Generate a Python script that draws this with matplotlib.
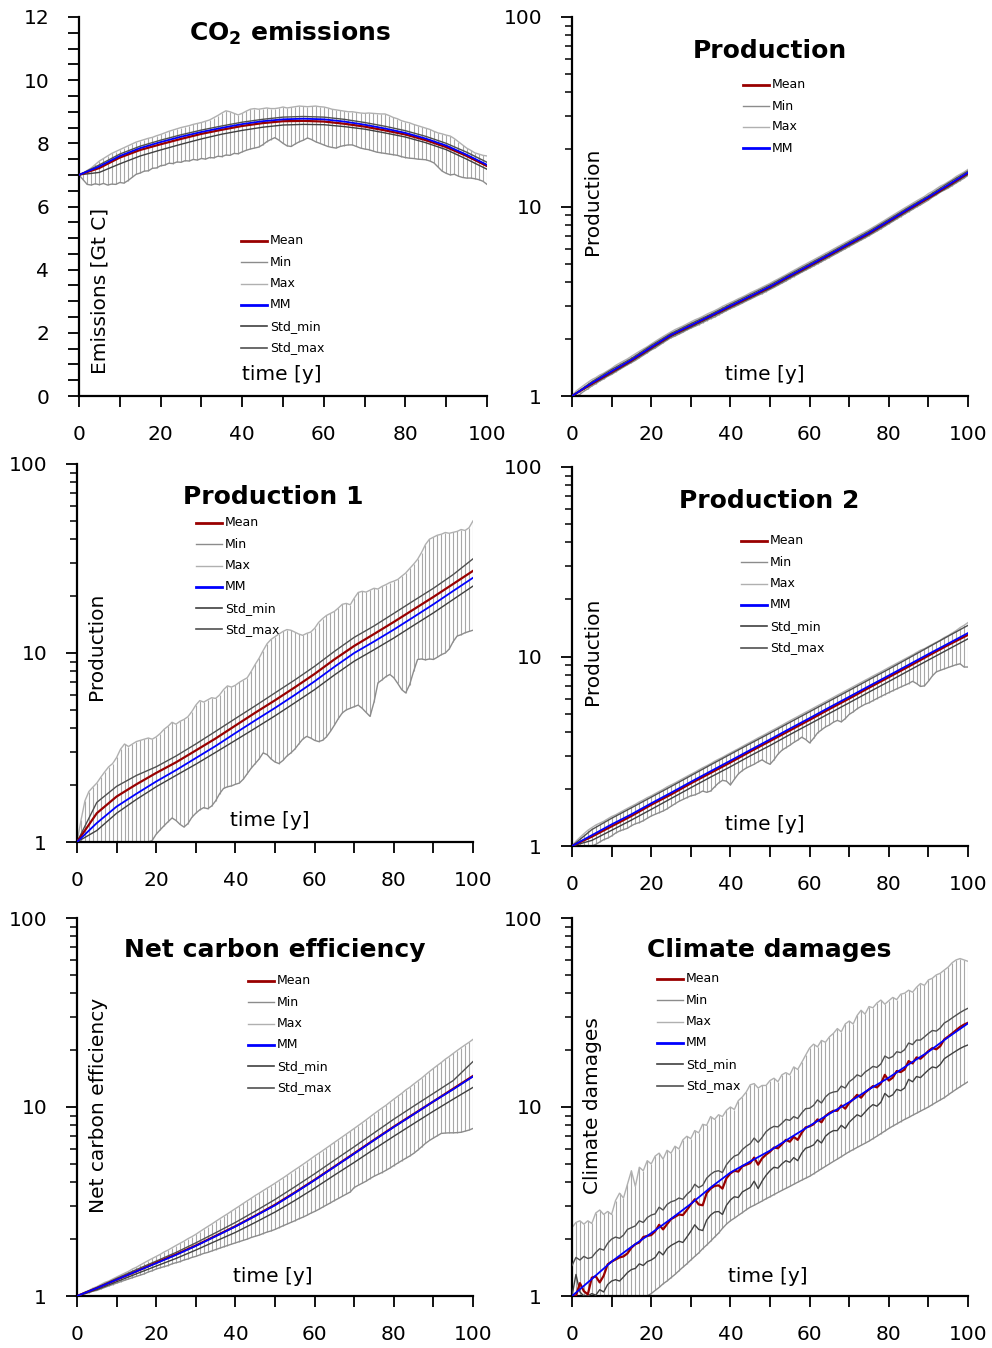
import numpy as np
import matplotlib
matplotlib.use("Agg")
import matplotlib.pyplot as plt
from matplotlib.lines import Line2D
from matplotlib.ticker import (MultipleLocator, FixedLocator, FixedFormatter,
                               LogLocator, NullFormatter)

W, H = 992, 1348

years = np.arange(0, 101)        # yearly steps (min / max envelopes)
years5 = np.arange(0, 101, 5)    # 5-year steps (statistics lines)

# --- CO2 emissions [Gt C] ---
co2_mean = [7.00, 7.22, 7.55, 7.79, 7.97, 8.14, 8.30, 8.43, 8.55, 8.64, 8.70,
            8.71, 8.69, 8.62, 8.53, 8.41, 8.28, 8.10, 7.88, 7.60, 7.28]
co2_mm = [7.00, 7.27, 7.60, 7.85, 8.04, 8.21, 8.36, 8.49, 8.61, 8.70, 8.76,
          8.78, 8.76, 8.69, 8.59, 8.47, 8.33, 8.15, 7.93, 7.64, 7.32]
co2_smax = [7.00, 7.32, 7.66, 7.91, 8.10, 8.27, 8.42, 8.55, 8.67, 8.76, 8.83,
            8.85, 8.83, 8.76, 8.66, 8.54, 8.40, 8.22, 8.00, 7.72, 7.40]
co2_smin = [7.00, 7.08, 7.35, 7.60, 7.79, 7.97, 8.14, 8.29, 8.41, 8.51, 8.58,
            8.60, 8.59, 8.53, 8.45, 8.33, 8.20, 8.02, 7.80, 7.50, 7.18]
co2_min = [7.00, 6.85, 6.70, 6.68, 6.72, 6.69, 6.73, 6.68, 6.71, 6.70,
           6.76, 6.74, 6.82, 6.92, 7.02, 7.06, 7.12, 7.13, 7.21, 7.22,
           7.29, 7.31, 7.37, 7.36, 7.41, 7.40, 7.45, 7.44, 7.49, 7.47,
           7.52, 7.50, 7.55, 7.54, 7.59, 7.58, 7.63, 7.62, 7.68, 7.67,
           7.73, 7.78, 7.82, 7.85, 7.88, 7.95, 8.05, 8.12, 8.18, 8.10,
           8.00, 7.92, 7.90, 7.98, 8.05, 8.10, 8.17, 8.12, 8.05, 8.00,
           7.95, 7.90, 7.87, 7.85, 7.90, 7.93, 7.95, 7.95, 7.90, 7.85,
           7.82, 7.80, 7.76, 7.72, 7.70, 7.68, 7.66, 7.64, 7.62, 7.58,
           7.55, 7.53, 7.52, 7.50, 7.49, 7.48, 7.44, 7.38, 7.25, 7.12,
           7.05, 7.00, 7.02, 6.96, 6.92, 6.90, 6.90, 6.88, 6.85, 6.80,
           6.70]
co2_max = [7.00, 7.05, 7.14, 7.22, 7.33, 7.44, 7.52, 7.60, 7.68, 7.74,
           7.80, 7.86, 7.92, 7.98, 8.04, 8.08, 8.12, 8.16, 8.19, 8.24,
           8.28, 8.33, 8.38, 8.42, 8.46, 8.50, 8.53, 8.56, 8.60, 8.63,
           8.66, 8.70, 8.74, 8.81, 8.88, 8.96, 9.03, 9.00, 8.95, 8.90,
           8.95, 9.02, 9.08, 9.10, 9.08, 9.10, 9.12, 9.10, 9.10, 9.12,
           9.15, 9.12, 9.14, 9.16, 9.18, 9.17, 9.16, 9.17, 9.18, 9.16,
           9.15, 9.12, 9.08, 9.06, 9.04, 9.02, 9.00, 9.00, 8.98, 8.96,
           8.95, 8.96, 8.95, 8.94, 8.93, 8.93, 8.88, 8.82, 8.78, 8.72,
           8.68, 8.65, 8.60, 8.56, 8.52, 8.48, 8.44, 8.38, 8.33, 8.30,
           8.26, 8.23, 8.15, 8.05, 7.95, 7.85, 7.78, 7.70, 7.66, 7.62,
           7.60]

# --- Production ---
prod_mean = [1.00, 1.16, 1.34, 1.54, 1.80, 2.09, 2.35, 2.64, 2.97, 3.34, 3.76,
             4.29, 4.87, 5.55, 6.34, 7.22, 8.35, 9.67, 11.1, 12.9, 15.0]
prod_mm = [1.00, 1.17, 1.35, 1.55, 1.81, 2.10, 2.36, 2.65, 2.99, 3.36, 3.78,
           4.31, 4.90, 5.58, 6.37, 7.26, 8.39, 9.72, 11.2, 13.0, 15.1]
prod_smax = [1.00, 1.19, 1.38, 1.58, 1.85, 2.14, 2.41, 2.70, 3.05, 3.43, 3.86,
             4.40, 5.00, 5.69, 6.50, 7.41, 8.56, 9.91, 11.4, 13.3, 15.4]
prod_smin = [1.00, 1.15, 1.32, 1.52, 1.77, 2.06, 2.31, 2.60, 2.93, 3.29, 3.70,
             4.22, 4.80, 5.47, 6.24, 7.11, 8.22, 9.53, 11.0, 12.7, 14.8]
prod_min = [1.00, 1.00, 1.02, 1.06, 1.09, 1.13, 1.16, 1.20, 1.23, 1.27,
            1.30, 1.34, 1.38, 1.42, 1.46, 1.50, 1.54, 1.59, 1.64, 1.69,
            1.75, 1.79, 1.85, 1.91, 1.97, 2.03, 2.07, 2.12, 2.17, 2.23,
            2.28, 2.33, 2.38, 2.44, 2.50, 2.56, 2.61, 2.68, 2.75, 2.82,
            2.89, 2.95, 3.02, 3.09, 3.17, 3.24, 3.32, 3.40, 3.47, 3.56,
            3.65, 3.74, 3.84, 3.94, 4.04, 4.16, 4.27, 4.38, 4.50, 4.61,
            4.73, 4.85, 4.98, 5.11, 5.25, 5.38, 5.53, 5.67, 5.83, 5.98,
            6.15, 6.31, 6.48, 6.65, 6.82, 7.01, 7.21, 7.41, 7.63, 7.86,
            8.10, 8.34, 8.59, 8.84, 9.11, 9.38, 9.65, 9.94, 10.2, 10.5,
            10.8, 11.2, 11.5, 11.9, 12.2, 12.5, 12.9, 13.3, 13.7, 14.1,
            14.6]
prod_max = [1.00, 1.06, 1.10, 1.14, 1.18, 1.22, 1.25, 1.29, 1.32, 1.36,
            1.40, 1.45, 1.49, 1.53, 1.57, 1.62, 1.67, 1.72, 1.77, 1.82,
            1.88, 1.94, 2.00, 2.06, 2.12, 2.18, 2.24, 2.29, 2.34, 2.40,
            2.46, 2.52, 2.57, 2.63, 2.70, 2.76, 2.82, 2.89, 2.97, 3.04,
            3.11, 3.18, 3.26, 3.33, 3.41, 3.50, 3.58, 3.66, 3.75, 3.84,
            3.93, 4.04, 4.14, 4.25, 4.36, 4.48, 4.60, 4.72, 4.85, 4.97,
            5.10, 5.23, 5.37, 5.51, 5.66, 5.80, 5.96, 6.12, 6.28, 6.45,
            6.62, 6.80, 6.98, 7.17, 7.35, 7.55, 7.77, 7.99, 8.23, 8.47,
            8.73, 8.99, 9.26, 9.53, 9.82, 10.1, 10.4, 10.7, 11.0, 11.3,
            11.7, 12.0, 12.4, 12.8, 13.1, 13.5, 13.9, 14.4, 14.8, 15.2,
            15.7]

# --- Production 1 ---
p1_mean = [1.00, 1.42, 1.74, 2.02, 2.32, 2.64, 3.05, 3.53, 4.13, 4.83, 5.62,
           6.58, 7.75, 9.25, 10.9, 12.6, 14.6, 17.0, 19.8, 23.2, 27.2]
p1_mm = [1.00, 1.26, 1.54, 1.80, 2.09, 2.40, 2.78, 3.22, 3.77, 4.40, 5.12,
         6.00, 7.08, 8.45, 10.0, 11.5, 13.3, 15.5, 18.1, 21.3, 25.0]
p1_smax = [1.00, 1.62, 1.97, 2.25, 2.50, 2.85, 3.30, 3.85, 4.50, 5.25, 6.15,
           7.20, 8.50, 10.2, 12.1, 13.9, 16.2, 18.9, 22.0, 26.0, 31.5]
p1_smin = [1.00, 1.15, 1.42, 1.68, 1.96, 2.25, 2.58, 2.98, 3.45, 4.00, 4.65,
           5.45, 6.40, 7.65, 9.05, 10.4, 12.0, 14.0, 16.3, 19.2, 22.6]
p1_min = [1.00, 1.00, 1.00, 1.00, 1.00, 1.00, 1.00, 1.00, 1.00, 1.00,
          1.00, 1.00, 1.00, 1.00, 1.00, 1.00, 1.00, 1.00, 1.00, 1.02,
          1.10, 1.16, 1.22, 1.28, 1.34, 1.30, 1.24, 1.20, 1.25, 1.35,
          1.42, 1.48, 1.52, 1.50, 1.55, 1.65, 1.80, 1.92, 1.96, 1.98,
          2.02, 2.05, 2.15, 2.30, 2.46, 2.60, 2.75, 2.96, 2.90, 2.75,
          2.65, 2.60, 2.70, 2.85, 2.96, 3.10, 3.30, 3.50, 3.62, 3.55,
          3.45, 3.40, 3.45, 3.60, 3.85, 4.15, 4.50, 4.82, 5.00, 5.10,
          5.20, 5.30, 5.10, 4.85, 4.62, 5.50, 6.95, 7.20, 7.50, 7.70,
          7.40, 6.90, 6.40, 6.15, 6.80, 8.00, 9.24, 9.30, 9.20, 9.30,
          9.24, 9.50, 9.80, 10.0, 10.5, 11.5, 12.3, 12.5, 12.8, 13.0,
          13.2]
p1_max = [1.00, 1.30, 1.65, 1.85, 1.95, 2.05, 2.20, 2.35, 2.50, 2.60,
          2.80, 3.10, 3.30, 3.20, 3.30, 3.40, 3.45, 3.50, 3.55, 3.50,
          3.60, 3.75, 3.95, 4.10, 4.30, 4.20, 4.35, 4.45, 4.60, 4.90,
          5.30, 5.60, 5.50, 5.65, 5.80, 5.75, 6.00, 6.40, 6.70, 6.60,
          6.75, 7.00, 7.20, 7.40, 8.00, 8.70, 9.40, 10.3, 11.2, 11.8,
          12.2, 12.6, 13.0, 13.3, 13.2, 12.9, 12.6, 12.4, 12.7, 12.9,
          13.5, 14.5, 15.2, 15.8, 16.2, 16.6, 17.3, 18.1, 18.3, 18.0,
          19.5, 20.9, 21.2, 21.0, 21.5, 22.0, 21.8, 22.5, 23.0, 23.6,
          24.0, 24.5, 25.5, 26.5, 28.0, 29.5, 31.3, 34.0, 37.5, 40.0,
          41.0, 42.0, 42.5, 43.4, 43.0, 43.5, 44.0, 45.0, 44.5, 46.0,
          50.0]

# --- Production 2 ---
p2_mean = [1.00, 1.12, 1.27, 1.44, 1.65, 1.87, 2.14, 2.43, 2.76, 3.15, 3.58,
           4.07, 4.63, 5.28, 6.00, 6.84, 7.78, 8.85, 10.1, 11.5, 13.0]
p2_mm = [1.00, 1.14, 1.30, 1.47, 1.68, 1.91, 2.18, 2.48, 2.82, 3.21, 3.65,
         4.16, 4.73, 5.39, 6.13, 6.98, 7.94, 9.04, 10.3, 11.7, 13.3]
p2_smax = [1.00, 1.22, 1.40, 1.59, 1.81, 2.06, 2.35, 2.68, 3.05, 3.47, 3.94,
           4.49, 5.11, 5.82, 6.62, 7.54, 8.58, 9.80, 11.2, 12.8, 14.6]
p2_smin = [1.00, 1.07, 1.21, 1.37, 1.56, 1.78, 2.03, 2.31, 2.62, 2.99, 3.39,
           3.87, 4.40, 5.01, 5.70, 6.49, 7.38, 8.41, 9.58, 10.9, 12.4]
p2_min = [1.00, 1.00, 1.00, 1.00, 1.00, 1.00, 1.02, 1.05, 1.08, 1.10,
          1.13, 1.17, 1.20, 1.22, 1.24, 1.28, 1.31, 1.33, 1.36, 1.40,
          1.44, 1.47, 1.50, 1.53, 1.57, 1.62, 1.67, 1.72, 1.76, 1.80,
          1.84, 1.86, 1.90, 1.95, 1.92, 1.95, 2.05, 2.15, 2.22, 2.20,
          2.10, 2.25, 2.40, 2.50, 2.58, 2.64, 2.70, 2.78, 2.85, 2.76,
          2.70, 2.85, 3.05, 3.20, 3.30, 3.40, 3.52, 3.62, 3.75, 3.65,
          3.50, 3.70, 3.95, 4.10, 4.25, 4.35, 4.50, 4.60, 4.52, 4.70,
          4.95, 5.10, 5.30, 5.45, 5.60, 5.70, 5.85, 6.00, 6.15, 6.30,
          6.45, 6.60, 6.75, 6.90, 7.05, 7.20, 7.40, 7.20, 6.95, 7.00,
          7.40, 7.90, 8.30, 8.45, 8.60, 8.75, 8.90, 9.05, 9.15, 8.80,
          8.80]
p2_max = [1.00, 1.06, 1.11, 1.16, 1.21, 1.25, 1.29, 1.32, 1.35, 1.39,
          1.43, 1.46, 1.50, 1.54, 1.58, 1.62, 1.66, 1.71, 1.75, 1.80,
          1.84, 1.89, 1.94, 1.99, 2.05, 2.10, 2.15, 2.21, 2.27, 2.33,
          2.39, 2.45, 2.52, 2.59, 2.65, 2.72, 2.80, 2.87, 2.94, 3.02,
          3.10, 3.18, 3.26, 3.35, 3.44, 3.53, 3.62, 3.72, 3.81, 3.91,
          4.02, 4.12, 4.23, 4.34, 4.46, 4.58, 4.70, 4.82, 4.95, 5.08,
          5.21, 5.35, 5.49, 5.63, 5.78, 5.93, 6.09, 6.25, 6.41, 6.58,
          6.75, 6.93, 7.11, 7.30, 7.49, 7.68, 7.89, 8.09, 8.30, 8.52,
          8.75, 8.97, 9.21, 9.45, 9.70, 9.95, 10.2, 10.5, 10.8, 11.0,
          11.3, 11.6, 11.9, 12.2, 12.6, 12.9, 13.3, 13.7, 14.2, 14.6,
          15.1]

# --- Net carbon efficiency ---
nce_mean = [1.00, 1.10, 1.22, 1.35, 1.50, 1.66, 1.85, 2.08, 2.34, 2.66, 3.04,
            3.53, 4.12, 4.84, 5.69, 6.70, 7.87, 9.18, 10.7, 12.5, 14.6]
nce_mm = [1.00, 1.10, 1.22, 1.35, 1.49, 1.65, 1.84, 2.07, 2.33, 2.65, 3.02,
          3.51, 4.10, 4.82, 5.66, 6.67, 7.83, 9.14, 10.7, 12.4, 14.5]
nce_smax = [1.00, 1.11, 1.24, 1.38, 1.53, 1.70, 1.91, 2.16, 2.45, 2.81, 3.24,
            3.78, 4.43, 5.23, 6.16, 7.29, 8.62, 10.1, 11.8, 13.8, 17.4]
nce_smin = [1.00, 1.08, 1.19, 1.31, 1.44, 1.58, 1.75, 1.95, 2.17, 2.45, 2.78,
            3.20, 3.72, 4.36, 5.09, 5.98, 7.00, 8.16, 9.50, 11.0, 12.7]
nce_min = [1.00, 1.01, 1.03, 1.04, 1.06, 1.07, 1.09, 1.11, 1.13, 1.15,
           1.17, 1.19, 1.21, 1.23, 1.25, 1.27, 1.29, 1.31, 1.34, 1.36,
           1.39, 1.41, 1.43, 1.45, 1.48, 1.50, 1.52, 1.55, 1.57, 1.60,
           1.62, 1.65, 1.68, 1.70, 1.73, 1.76, 1.79, 1.82, 1.85, 1.88,
           1.91, 1.94, 1.97, 2.00, 2.04, 2.07, 2.10, 2.14, 2.18, 2.21,
           2.25, 2.30, 2.35, 2.40, 2.45, 2.50, 2.56, 2.61, 2.67, 2.74,
           2.80, 2.87, 2.95, 3.03, 3.11, 3.20, 3.28, 3.37, 3.46, 3.55,
           3.75, 3.85, 3.95, 4.05, 4.18, 4.30, 4.40, 4.50, 4.62, 4.75,
           4.90, 5.05, 5.20, 5.35, 5.50, 5.68, 5.90, 6.15, 6.42, 6.65,
           6.85, 7.05, 7.25, 7.28, 7.30, 7.30, 7.32, 7.35, 7.45, 7.55,
           7.70]
nce_max = [1.00, 1.02, 1.05, 1.07, 1.10, 1.12, 1.15, 1.18, 1.20, 1.23,
           1.26, 1.29, 1.32, 1.35, 1.39, 1.42, 1.46, 1.50, 1.54, 1.58,
           1.62, 1.66, 1.71, 1.75, 1.80, 1.85, 1.90, 1.95, 2.01, 2.06,
           2.12, 2.19, 2.26, 2.33, 2.40, 2.48, 2.56, 2.64, 2.72, 2.81,
           2.90, 2.99, 3.09, 3.19, 3.29, 3.40, 3.50, 3.61, 3.72, 3.83,
           3.95, 4.08, 4.21, 4.35, 4.50, 4.65, 4.80, 4.96, 5.13, 5.31,
           5.50, 5.68, 5.87, 6.07, 6.28, 6.50, 6.72, 6.95, 7.19, 7.44,
           7.70, 7.97, 8.25, 8.55, 8.87, 9.20, 9.53, 9.87, 10.2, 10.6,
           11.0, 11.4, 11.8, 12.3, 12.7, 13.2, 13.7, 14.2, 14.8, 15.4,
           16.0, 16.6, 17.2, 17.9, 18.5, 19.2, 19.9, 20.6, 21.3, 22.0,
           22.8]

# --- Climate damages ---
cd_mm = [1.00, 1.23, 1.52, 1.82, 2.15, 2.56, 3.07, 3.75, 4.50, 5.15, 5.88,
         6.85, 7.95, 9.20, 10.6, 12.4, 14.3, 16.8, 19.6, 23.4, 27.7]
cd_mean = [1.00, 1.00, 1.17, 1.06, 1.02, 1.25, 1.27, 1.18, 1.28, 1.47,
           1.52, 1.56, 1.60, 1.62, 1.68, 1.80, 1.88, 1.92, 2.05, 2.08,
           2.10, 2.20, 2.38, 2.25, 2.40, 2.55, 2.62, 2.70, 2.68, 2.85,
           3.05, 3.25, 3.05, 3.02, 3.50, 3.70, 3.82, 3.85, 3.70, 4.20,
           4.45, 4.60, 4.55, 4.85, 4.95, 5.05, 5.40, 4.95, 5.35, 5.60,
           5.80, 6.10, 6.05, 6.35, 6.70, 6.55, 6.95, 6.70, 7.30, 7.80,
           7.90, 8.10, 8.60, 8.30, 8.95, 9.30, 9.55, 9.55, 10.2, 9.80,
           10.5, 11.0, 11.6, 11.2, 11.9, 12.4, 12.9, 12.7, 13.3, 14.8,
           13.8, 14.3, 15.5, 15.3, 15.8, 17.5, 17.0, 18.3, 18.0, 18.8,
           19.8, 20.5, 20.2, 21.0, 22.8, 23.6, 24.5, 25.5, 26.5, 27.3,
           27.9]
cd_smax = [1.45, 1.60, 1.55, 1.62, 1.58, 1.60, 1.70, 1.78, 1.75, 1.90,
           2.00, 2.05, 2.02, 2.10, 2.25, 2.30, 2.35, 2.50, 2.45, 2.60,
           2.68, 2.72, 2.95, 2.85, 3.05, 3.15, 3.20, 3.30, 3.25, 3.45,
           3.60, 3.90, 3.75, 3.85, 4.20, 4.40, 4.55, 4.60, 4.50, 4.95,
           5.25, 5.50, 5.60, 5.95, 6.20, 6.40, 6.85, 6.50, 6.90, 7.40,
           7.70, 7.90, 7.85, 8.20, 8.60, 8.50, 8.90, 8.70, 9.30, 9.80,
           9.85, 10.2, 10.9, 10.5, 11.3, 11.8, 12.0, 12.1, 12.9, 12.6,
           13.6, 14.1, 14.8, 14.5, 15.3, 15.8, 16.4, 16.2, 16.9, 18.6,
           18.1, 18.5, 19.6, 19.4, 20.1, 21.8, 21.4, 22.6, 22.6, 23.5,
           24.5, 25.4, 25.2, 26.2, 27.8, 28.6, 29.6, 30.6, 31.6, 32.5,
           33.3]
cd_smin = [1.00, 1.30, 1.05, 1.00, 1.00, 1.03, 1.01, 1.08, 1.05, 1.15,
           1.20, 1.22, 1.20, 1.26, 1.33, 1.38, 1.40, 1.48, 1.45, 1.52,
           1.55, 1.60, 1.72, 1.65, 1.78, 1.85, 1.90, 1.95, 1.92, 2.05,
           2.20, 2.38, 2.25, 2.22, 2.52, 2.68, 2.78, 2.80, 2.70, 3.02,
           3.22, 3.35, 3.32, 3.55, 3.65, 3.75, 4.05, 3.70, 4.05, 4.35,
           4.60, 4.80, 4.75, 5.00, 5.20, 5.10, 5.40, 5.20, 5.70, 6.05,
           6.15, 6.30, 6.70, 6.45, 7.00, 7.30, 7.50, 7.50, 8.00, 7.70,
           8.30, 8.70, 9.10, 8.90, 9.40, 9.90, 10.3, 10.1, 10.6, 11.8,
           11.3, 11.6, 12.4, 12.2, 12.6, 14.0, 13.6, 14.5, 14.3, 15.0,
           15.7, 16.3, 16.1, 16.8, 18.0, 18.6, 19.2, 19.8, 20.4, 20.9,
           21.3]
cd_min = [1.00, 1.00, 1.00, 1.00, 1.00, 1.00, 1.00, 1.00, 1.00, 1.00,
          1.00, 1.00, 1.00, 1.00, 1.00, 1.00, 1.00, 1.00, 1.00, 1.00,
          1.03, 1.07, 1.11, 1.16, 1.20, 1.25, 1.30, 1.36, 1.42, 1.48,
          1.55, 1.62, 1.69, 1.78, 1.86, 1.95, 2.05, 2.15, 2.28, 2.40,
          2.50, 2.58, 2.67, 2.76, 2.86, 2.95, 3.02, 3.10, 3.18, 3.27,
          3.35, 3.44, 3.53, 3.62, 3.71, 3.80, 3.90, 4.00, 4.10, 4.20,
          4.30, 4.43, 4.57, 4.71, 4.85, 5.00, 5.15, 5.30, 5.46, 5.63,
          5.80, 5.95, 6.11, 6.27, 6.43, 6.60, 6.80, 7.01, 7.23, 7.46,
          7.70, 7.92, 8.14, 8.37, 8.60, 8.80, 9.04, 9.27, 9.51, 9.75,
          10.0, 10.3, 10.6, 10.9, 11.2, 11.6, 12.0, 12.4, 12.8, 13.2,
          13.6]
cd_max = [2.30, 2.45, 2.50, 2.40, 2.50, 2.42, 2.75, 2.85, 2.70, 2.80,
          2.70, 3.20, 3.50, 3.30, 3.90, 4.60, 3.80, 4.80, 4.60, 5.20,
          5.00, 5.50, 5.70, 5.30, 5.90, 5.70, 6.20, 6.00, 6.70, 7.00,
          6.80, 7.50, 7.30, 8.10, 8.00, 8.90, 8.60, 9.10, 8.90, 9.60,
          10.0, 9.70, 10.8, 11.3, 12.0, 13.1, 13.3, 12.6, 13.0, 13.0,
          13.8, 14.2, 13.6, 14.8, 15.2, 14.8, 16.3, 15.8, 17.2, 18.8,
          20.5, 21.5, 20.8, 22.5, 22.0, 23.5, 24.5, 26.0, 25.0, 27.5,
          28.5, 27.5, 30.5, 32.5, 31.0, 34.0, 33.5, 35.5, 36.8, 35.0,
          36.5, 38.0, 37.0, 39.5, 40.0, 41.5, 40.5, 43.0, 45.0, 44.0,
          47.0, 48.0, 50.0, 51.0, 53.0, 55.0, 58.0, 60.0, 61.0, 60.0,
          59.0]

FULL_KEYS = ["Mean", "Min", "Max", "MM", "Std_min", "Std_max"]

MEAN_C = "#990000"
MM_C = "#0000ff"
MIN_C = "#8c8c8c"
MAX_C = "#b0b0b0"
HATCH_C = "#a8a8a8"
SMIN_C = "#404040"
SMAX_C = "#505050"
KEY_STYLE = {
    "Mean": (MEAN_C, 2.0),
    "Min": (MIN_C, 1.0),
    "Max": (MAX_C, 1.0),
    "MM": (MM_C, 2.0),
    "Std_min": (SMIN_C, 1.2),
    "Std_max": (SMAX_C, 1.2),
}

TICK_FS = 14.5
LABEL_FS = 14.5
TITLE_FS = 18
KEY_FS = 9


def fx(x):
    return x / W


def fy(y):
    return 1 - y / H


def xs_for(series):
    return years if len(series) == len(years) else years5


def make_axes(fig, x0, x1, ytop, ybot):
    ax = fig.add_axes([fx(x0), fy(ybot), (x1 - x0) / W, (ybot - ytop) / H])
    for side in ("top", "right"):
        ax.spines[side].set_visible(False)
    for side in ("left", "bottom"):
        ax.spines[side].set_linewidth(1.6)
    ax.set_xlim(0, 100)
    ax.xaxis.set_major_locator(MultipleLocator(20))
    ax.xaxis.set_minor_locator(MultipleLocator(10))
    ax.tick_params(axis="x", which="both", length=8, width=1.3,
                   direction="out", labelsize=TICK_FS, pad=13)
    ax.tick_params(axis="y", which="major", length=8, width=1.3,
                   direction="out", labelsize=TICK_FS, pad=13.5)
    ax.tick_params(axis="y", which="minor", length=5, width=1.1,
                   direction="out")
    return ax


def set_log(ax):
    ax.set_yscale("log")
    ax.set_ylim(1, 100)
    ax.yaxis.set_major_locator(FixedLocator([1, 10, 100]))
    ax.yaxis.set_major_formatter(FixedFormatter(["1", "10", "100"]))
    ax.yaxis.set_minor_locator(LogLocator(base=10, subs=np.arange(2, 10)))
    ax.yaxis.set_minor_formatter(NullFormatter())


def draw_stats(ax, lo, hi, mean, mm, smin, smax):
    ax.vlines(years, lo, hi, colors=HATCH_C, lw=0.8, zorder=1)
    ax.plot(years, lo, color=MIN_C, lw=1.0, zorder=2)
    ax.plot(years, hi, color=MAX_C, lw=1.0, zorder=2)
    ax.plot(xs_for(smin), smin, color=SMIN_C, lw=1.0, zorder=3)
    ax.plot(xs_for(smax), smax, color=SMAX_C, lw=1.0, zorder=3)
    ax.plot(xs_for(mean), mean, color=MEAN_C, lw=1.6, zorder=4)
    ax.plot(xs_for(mm), mm, color=MM_C, lw=1.3, zorder=5)


def draw_key(fig, x, y, names, step=21.3):
    for i, name in enumerate(names):
        color, lw = KEY_STYLE[name]
        yy = fy(y + i * step)
        fig.add_artist(Line2D([fx(x), fx(x + 26)], [yy, yy], color=color,
                              lw=lw, transform=fig.transFigure))
        fig.text(fx(x + 29), yy, name, fontsize=KEY_FS, va="center",
                 ha="left")


def labels(fig, title, title_xy, ylabel, ylabel_xy, xlabel_xy):
    fig.text(fx(title_xy[0]), fy(title_xy[1]), title, fontsize=TITLE_FS,
             fontweight="bold", ha="center", va="baseline")
    fig.text(fx(ylabel_xy[0]), fy(ylabel_xy[1]), ylabel, fontsize=LABEL_FS,
             rotation=90, ha="center", va="center")
    fig.text(fx(xlabel_xy[0]), fy(xlabel_xy[1]), "time [y]",
             fontsize=LABEL_FS, ha="center", va="center")


fig = plt.figure(figsize=(W / 100, H / 100), dpi=100)

# CO2 emissions (linear axis)
ax = make_axes(fig, 79, 487, 17, 396)
ax.set_ylim(0, 12)
ax.yaxis.set_major_locator(MultipleLocator(2))
ax.yaxis.set_minor_locator(MultipleLocator(0.5))
ax.tick_params(axis="y", which="minor", length=8, width=1.3)
draw_stats(ax, co2_min, co2_max, co2_mean, co2_mm, co2_smin, co2_smax)
labels(fig, r"CO$_\mathbf{2}$ emissions", (290, 41), "Emissions [Gt C]",
       (100, 291), (282, 375))
draw_key(fig, 241, 241, FULL_KEYS)

# Production
ax = make_axes(fig, 572, 968, 17, 396)
set_log(ax)
draw_stats(ax, prod_min, prod_max, prod_mean, prod_mm, prod_smin, prod_smax)
labels(fig, "Production", (770, 58), "Production", (593, 201), (765, 375))
draw_key(fig, 743, 85, ["Mean", "Min", "Max", "MM"], step=21)

# Production 1
ax = make_axes(fig, 77, 473, 464, 842)
set_log(ax)
draw_stats(ax, p1_min, p1_max, p1_mean, p1_mm, p1_smin, p1_smax)
labels(fig, "Production 1", (273, 504), "Production", (97, 646), (270, 821))
draw_key(fig, 196, 523, FULL_KEYS)

# Production 2
ax = make_axes(fig, 572, 968, 467, 846)
set_log(ax)
draw_stats(ax, p2_min, p2_max, p2_mean, p2_mm, p2_smin, p2_smax)
labels(fig, "Production 2", (769, 508), "Production", (593, 651), (765, 825))
draw_key(fig, 741, 541, FULL_KEYS)

# Net carbon efficiency
ax = make_axes(fig, 77, 473, 918, 1296)
set_log(ax)
draw_stats(ax, nce_min, nce_max, nce_mean, nce_mm, nce_smin, nce_smax)
labels(fig, "Net carbon efficiency", (275, 957), "Net carbon efficiency",
       (98, 1105), (273, 1277))
draw_key(fig, 248, 981, FULL_KEYS)

# Climate damages
ax = make_axes(fig, 572, 968, 918, 1296)
set_log(ax)
draw_stats(ax, cd_min, cd_max, cd_mean, cd_mm, cd_smin, cd_smax)
labels(fig, "Climate damages", (769, 957), "Climate damages", (593, 1106),
       (768, 1277))
draw_key(fig, 657, 979, FULL_KEYS)

fig.savefig("out.png", dpi=100)
